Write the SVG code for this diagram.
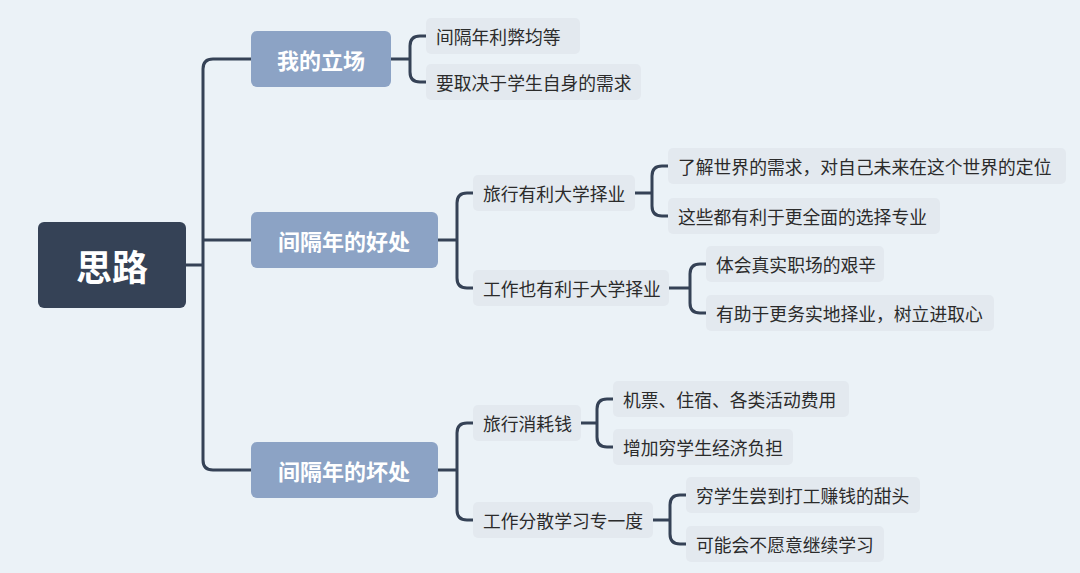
<svg xmlns="http://www.w3.org/2000/svg" width="1080" height="573" viewBox="0 0 1080 573">
<style>
.c{fill:none;stroke:#354256;stroke-width:3;stroke-linecap:round}
.l1 rect{fill:#8ca3c5}
.l1 text{fill:#fff;font-size:22px;font-weight:bold}
.lf rect{fill:#e3e9ef}
.lf text{fill:#2b2b2b;font-size:17.8px}
text{font-family:"Noto Sans CJK SC","Liberation Sans",sans-serif;dominant-baseline:central}
</style>
<rect width="1080" height="573" fill="#ebf2f7"/>
<g id="connectors">
<path class="c" d="M186 265H203M251 59H213Q203 59 203 69V460Q203 470 213 470H251M203 240H251"/>
<path class="c" d="M391 59H410M426 36H420Q410 36 410 46V72Q410 82 420 82H426"/>
<path class="c" d="M438 240H457M473 193H467Q457 193 457 203V278Q457 288 467 288H473"/>
<path class="c" d="M635 193H652M668 166H662Q652 166 652 176V206Q652 216 662 216H668"/>
<path class="c" d="M669 288H690M706 264H700Q690 264 690 274V303Q690 313 700 313H706"/>
<path class="c" d="M438 470H457M473 423H467Q457 423 457 433V510Q457 520 467 520H473"/>
<path class="c" d="M581 423H597M613 399H607Q597 399 597 409V437Q597 447 607 447H613"/>
<path class="c" d="M653 520H670M686 495H680Q670 495 670 505V534Q670 544 680 544H686"/>
</g>
<g id="root"><rect x="38" y="222" width="148" height="86" rx="6" fill="#354256"/><text x="112" y="265" text-anchor="middle" fill="#fff" font-size="36" font-weight="bold">思路</text></g>
<g id="n1" class="l1"><rect x="251" y="31" width="140" height="56" rx="6"/><text x="321" y="59" text-anchor="middle">我的立场</text></g>
<g id="n2" class="l1"><rect x="251" y="212" width="187" height="56" rx="6"/><text x="344" y="240" text-anchor="middle">间隔年的好处</text></g>
<g id="n3" class="l1"><rect x="251" y="442" width="187" height="56" rx="6"/><text x="344" y="470" text-anchor="middle">间隔年的坏处</text></g>
<g id="a1" class="lf"><rect x="426" y="18" width="154" height="36" rx="5"/><text x="436" y="36">间隔年利弊均等</text></g>
<g id="a2" class="lf"><rect x="426" y="64" width="215" height="36" rx="5"/><text x="436" y="82">要取决于学生自身的需求</text></g>
<g id="b1" class="lf"><rect x="473" y="175" width="162" height="36" rx="5"/><text x="483" y="193">旅行有利大学择业</text></g>
<g id="b2" class="lf"><rect x="473" y="270" width="196" height="36" rx="5"/><text x="483" y="288">工作也有利于大学择业</text></g>
<g id="b11" class="lf"><rect x="668" y="148" width="398" height="36" rx="5"/><text x="678" y="166">了解世界的需求，对自己未来在这个世界的定位</text></g>
<g id="b12" class="lf"><rect x="668" y="198" width="272" height="36" rx="5"/><text x="678" y="216">这些都有利于更全面的选择专业</text></g>
<g id="b21" class="lf"><rect x="706" y="246" width="178" height="36" rx="5"/><text x="716" y="264">体会真实职场的艰辛</text></g>
<g id="b22" class="lf"><rect x="706" y="295" width="288" height="36" rx="5"/><text x="716" y="313">有助于更务实地择业，树立进取心</text></g>
<g id="c1" class="lf"><rect x="473" y="405" width="108" height="36" rx="5"/><text x="483" y="423">旅行消耗钱</text></g>
<g id="c2" class="lf"><rect x="473" y="502" width="180" height="36" rx="5"/><text x="483" y="520">工作分散学习专一度</text></g>
<g id="c11" class="lf"><rect x="613" y="381" width="236" height="36" rx="5"/><text x="623" y="399">机票、住宿、各类活动费用</text></g>
<g id="c12" class="lf"><rect x="613" y="429" width="180" height="36" rx="5"/><text x="623" y="447">增加穷学生经济负担</text></g>
<g id="c21" class="lf"><rect x="686" y="477" width="234" height="36" rx="5"/><text x="696" y="495">穷学生尝到打工赚钱的甜头</text></g>
<g id="c22" class="lf"><rect x="686" y="526" width="198" height="36" rx="5"/><text x="696" y="544">可能会不愿意继续学习</text></g>
</svg>
